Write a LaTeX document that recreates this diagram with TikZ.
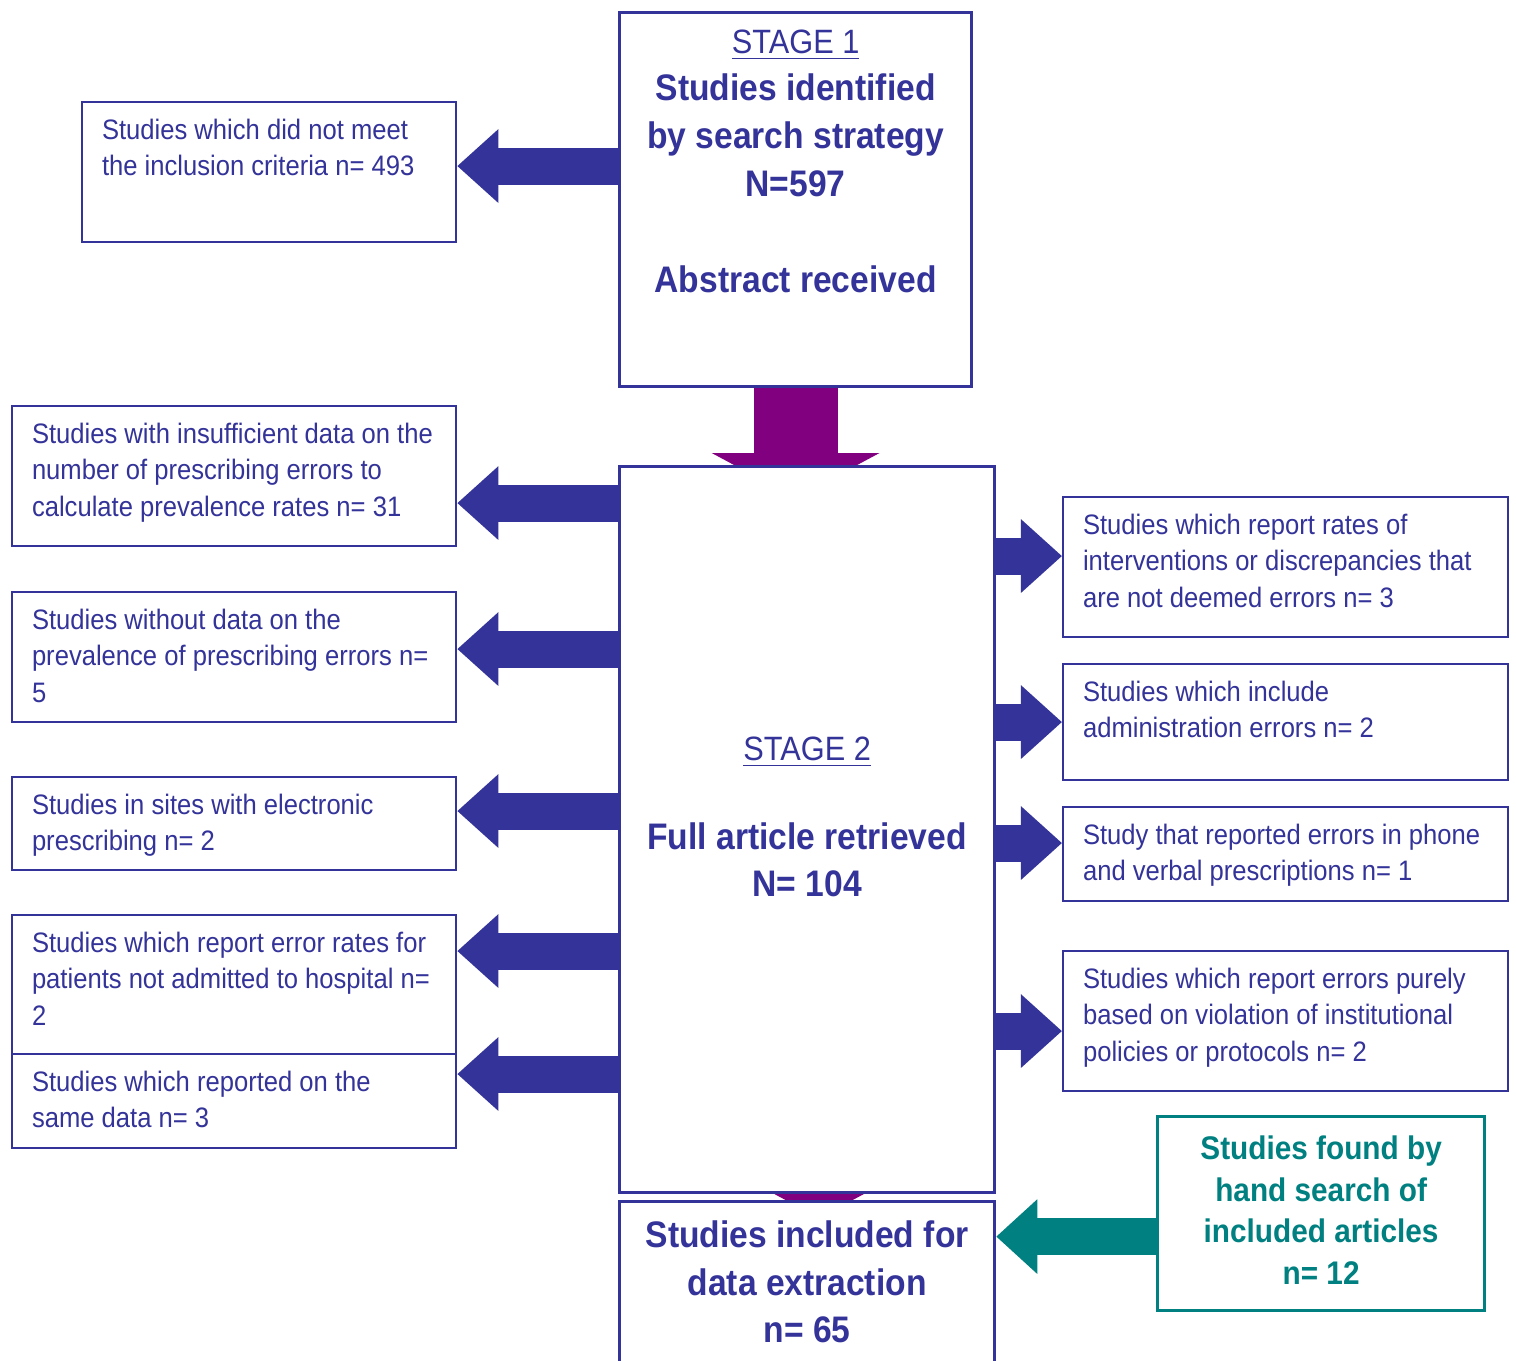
\documentclass[tikz,border=0pt]{standalone}
\usepackage{fontspec}
\setmainfont{Liberation Sans}[FakeStretch=0.91]
\usetikzlibrary{
  positioning,
  arrows.meta,
  backgrounds
}
\definecolor{navy}{HTML}{333399}
\definecolor{plum}{HTML}{800080}
\definecolor{handteal}{HTML}{008080}
\newcommand\exfont{\fontsize{8}{10.4}\selectfont}
\newcommand\bigfont{\fontsize{10.5}{13.6}\selectfont}
\newcommand\stagefont{\fontsize{9.6}{13.6}\selectfont}
\newcommand\handfont{\fontsize{9.3}{11.9}\selectfont\bfseries}
\newcommand\boxtext[3]{\parbox[t][#2][t]{#1}{\raggedright #3}}

\begin{document}
\begin{tikzpicture}[
  x=0.01cm, y=-0.01cm,
  stagebox/.style={draw=navy, line width=0.03cm, fill=white, anchor=north west,
                   inner sep=0pt, text=navy, font=\bigfont},
  exbox/.style={draw=navy, line width=0.02cm, fill=white, anchor=north west,
                inner xsep=0.2cm, inner ysep=0.17cm, text=navy, font=\exfont},
  handbox/.style={draw=handteal, line width=0.03cm, fill=white, anchor=north west,
                  inner sep=0pt, text=handteal, font=\handfont},
  outarrow/.style={navy, line width=0.37cm, -{Triangle[length=0.41cm, width=0.71cm]}},
  handarrow/.style={handteal, line width=0.37cm, -{Triangle[length=0.41cm, width=0.72cm]}},
  passarrow/.style={plum, line width=0.84cm, -{Triangle[length=0.45cm, width=1.66cm]}}
]
  \useasboundingbox (0,0) rectangle (1516,1360);
  \clip (0,0) rectangle (1516,1360);

  % Stages
  \node[stagebox] (stage1) at (618,11) {\parbox[t][3.74cm][t]{3.52cm}{\centering
    \vspace*{0.17cm}{\stagefont\underline{STAGE 1}}\\
    \bfseries Studies identified\\ by search strategy\\ N=597\\[\baselineskip]
    Abstract received}};
  \node[stagebox] (stage2) at (618,465) {\parbox[t][7.26cm][t]{3.75cm}{\centering
    \vspace*{2.70cm}{\stagefont\underline{STAGE 2}}\\[0.41cm]
    \bfseries Full article retrieved\\ N= 104}};
  \node[stagebox] (final) at (618,1200) {\parbox[t][2.2cm][t]{3.75cm}{\centering
    \vspace*{0.19cm}\bfseries Studies included for\\ data extraction\\ n= 65}};

  % Excluded studies, left
  \node[exbox] (crit) at (81,101) {\boxtext{3.34cm}{1.06cm}{Studies which did not meet\\
    the inclusion criteria n= 493}};
  \node[exbox] (insuff) at (11,405) {\boxtext{4.04cm}{1.06cm}{Studies with insufficient data on the\\
    number of prescribing errors to\\ calculate prevalence rates n= 31}};
  \node[exbox] (nodata) at (11,591) {\boxtext{4.04cm}{0.96cm}{Studies without data on the\\
    prevalence of prescribing errors n=\\ 5}};
  \node[exbox] (elec) at (11,776) {\boxtext{4.04cm}{0.59cm}{Studies in sites with electronic\\
    prescribing n= 2}};
  \node[exbox] (notadm) at (11,914) {\boxtext{4.04cm}{1.05cm}{Studies which report error rates for\\
    patients not admitted to hospital n=\\ 2}};
  \node[exbox] (same) at (11,1053) {\boxtext{4.04cm}{0.60cm}{Studies which reported on the\\
    same data n= 3}};

  % Excluded studies, right
  \node[exbox] (interv) at (1062,496) {\boxtext{4.05cm}{1.06cm}{Studies which report rates of\\
    interventions or discrepancies that\\ are not deemed errors n= 3}};
  \node[exbox] (admin) at (1062,663) {\boxtext{4.05cm}{0.82cm}{Studies which include\\
    administration errors n= 2}};
  \node[exbox] (phone) at (1062,806) {\boxtext{4.05cm}{0.60cm}{Study that reported errors in phone\\
    and verbal prescriptions n= 1}};
  \node[exbox] (policy) at (1062,950) {\boxtext{4.05cm}{1.06cm}{Studies which report errors purely\\
    based on violation of institutional\\ policies or protocols n= 2}};

  % Hand search
  \node[handbox] (hand) at (1156,1115) {\parbox[t][1.94cm][t]{3.27cm}{\centering
    \vspace*{0.19cm}Studies found by\\ hand search of\\ included articles\\ n= 12}};

  % Arrow ends
  \coordinate (tcrit) at ([yshift=0.06cm]crit.east);
  \coordinate (tinsuff) at ([yshift=-0.27cm]insuff.east);
  \coordinate (tnodata) at ([yshift=0.08cm]nodata.east);
  \coordinate (telec) at ([yshift=0.125cm]elec.east);
  \coordinate (tnotadm) at ([yshift=0.335cm]notadm.east);
  \coordinate (tsame) at ([yshift=0.27cm]same.east);
  \coordinate (tinterv) at ([yshift=0.11cm]interv.west);
  \coordinate (tadmin) at (admin.west);
  \coordinate (tphone) at ([yshift=0.11cm]phone.west);
  \coordinate (tpolicy) at ([yshift=-0.10cm]policy.west);
  \coordinate (thand) at ([yshift=-0.23cm]hand.west);
  \coordinate (pass1) at ([yshift=-0.33cm]stage2.north);
  \coordinate (pass2) at ([xshift=0.12cm, yshift=-0.18cm]final.north);

  \begin{scope}[on background layer]
    \draw[passarrow] (stage1.south) -- (pass1 -| stage1.south);
    \draw[passarrow] (stage2.south -| pass2) ++(0,-30) -- (pass2);

    \draw[outarrow] (stage1.west |- tcrit) -- (tcrit);
    \draw[outarrow] (stage2.west |- tinsuff) -- (tinsuff);
    \draw[outarrow] (stage2.west |- tnodata) -- (tnodata);
    \draw[outarrow] (stage2.west |- telec) -- (telec);
    \draw[outarrow] (stage2.west |- tnotadm) -- (tnotadm);
    \draw[outarrow] (stage2.west |- tsame) -- (tsame);

    \draw[outarrow] (stage2.east |- tinterv) -- (tinterv);
    \draw[outarrow] (stage2.east |- tadmin) -- (tadmin);
    \draw[outarrow] (stage2.east |- tphone) -- (tphone);
    \draw[outarrow] (stage2.east |- tpolicy) -- (tpolicy);

    \draw[handarrow] (thand) -- (final.east |- thand);
  \end{scope}
\end{tikzpicture}
\end{document}
